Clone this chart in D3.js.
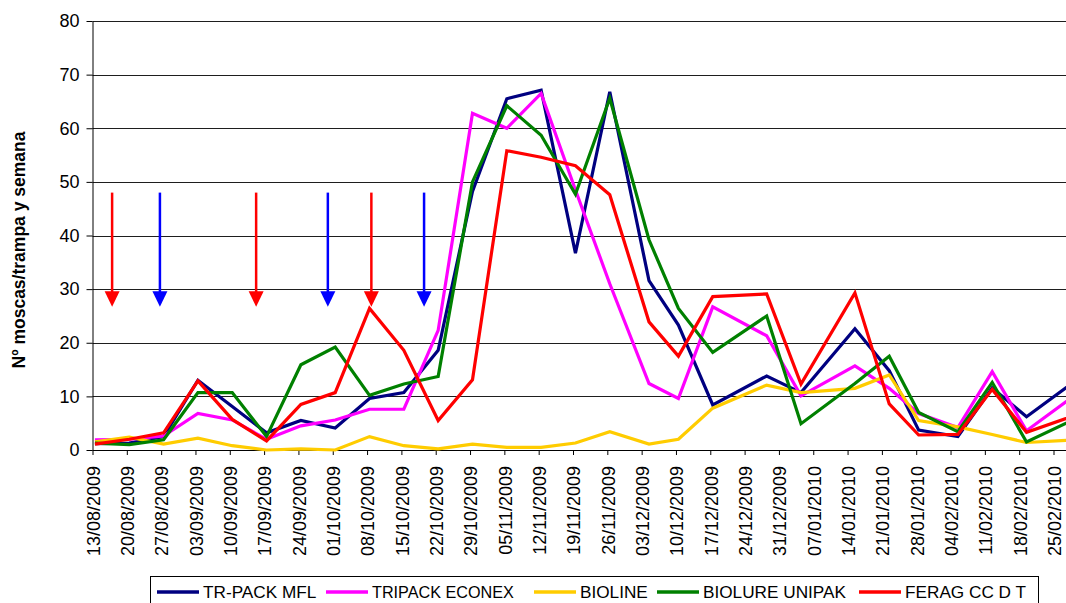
<!DOCTYPE html>
<html>
<head>
<meta charset="utf-8">
<script src="https://cdn.jsdelivr.net/npm/d3@7"></script>
<style>
  body { margin: 0; background: #fff; }
  svg { display: block; font-family: "Liberation Sans", Arial, sans-serif; }
</style>
</head>
<body>
<svg id="chart" width="1066" height="603"></svg>
<script>
// ---- data -------------------------------------------------------------
// trap inspection dates
const sampleDates = [
  "2009-08-13", "2009-08-20", "2009-08-27", "2009-09-03", "2009-09-10",
  "2009-09-17", "2009-09-24", "2009-10-01", "2009-10-08", "2009-10-15",
  "2009-10-22", "2009-10-29", "2009-11-05", "2009-11-12", "2009-11-19",
  "2009-11-26", "2009-12-04", "2009-12-10", "2009-12-17", "2009-12-28",
  "2010-01-04", "2010-01-15", "2010-01-22", "2010-01-28", "2010-02-05",
  "2010-02-12", "2010-02-19", "2010-03-05"
];

// flies per trap and week
const trPackMfl = [1.2, 1.3, 2.5, 13.0, 8.1, 3.2, 5.5, 4.1, 9.6, 10.7, 18.6, 48.2, 65.5, 67.1,
  36.7, 66.8, 31.6, 23.3, 8.4, 13.8, 10.7, 22.6, 14.8, 3.7, 2.5, 11.6, 6.2, 15.6];
const tripackEconex = [1.9, 2.0, 2.6, 6.8, 5.6, 2.0, 4.5, 5.6, 7.6, 7.6, 22.3, 62.8, 60.0, 66.5,
  48.5, 31.0, 12.4, 9.6, 26.7, 21.3, 10.1, 15.7, 11.5, 6.8, 4.2, 14.6, 3.6, 13.0];
const bioline = [1.5, 2.4, 1.1, 2.2, 0.8, 0.0, 0.2, 0.0, 2.5, 0.8, 0.2, 1.1, 0.5, 0.5,
  1.3, 3.4, 1.1, 2.0, 7.8, 12.1, 10.7, 11.5, 14.0, 5.5, 4.3, 2.9, 1.4, 2.1];
const biolureUnipak = [1.3, 1.0, 1.9, 10.7, 10.7, 2.5, 15.9, 19.2, 10.2, 12.3, 13.7, 50.0, 64.2, 58.7,
  47.7, 65.6, 39.2, 26.4, 18.2, 25.0, 4.9, 12.4, 17.5, 7.0, 3.4, 12.6, 1.5, 7.6];
const feragCcDt = [1.1, 2.0, 3.2, 12.9, 5.7, 1.7, 8.5, 10.7, 26.4, 18.6, 5.5, 13.1, 55.8, 54.6,
  53.0, 47.6, 23.9, 17.5, 28.6, 29.1, 12.3, 29.3, 8.6, 2.8, 2.9, 11.3, 3.3, 7.8];

const seriesNames = ["TR-PACK MFL", "TRIPACK ECONEX", "BIOLINE", "BIOLURE UNIPAK", "FERAG CC D T"];
const seriesValues = [trPackMfl, tripackEconex, bioline, biolureUnipak, feragCcDt];

// weekly axis labels
const tickLabels = [
  "13/08/2009", "20/08/2009", "27/08/2009", "03/09/2009", "10/09/2009", "17/09/2009",
  "24/09/2009", "01/10/2009", "08/10/2009", "15/10/2009", "22/10/2009", "29/10/2009",
  "05/11/2009", "12/11/2009", "19/11/2009", "26/11/2009", "03/12/2009", "10/12/2009",
  "17/12/2009", "24/12/2009", "31/12/2009", "07/01/2010", "14/01/2010", "21/01/2010",
  "28/01/2010", "04/02/2010", "11/02/2010", "18/02/2010", "25/02/2010"
];
const yTicks = [0, 10, 20, 30, 40, 50, 60, 70, 80];

// treatment arrows (kind 0 / kind 1), drawn from 48 down to ~27
const arrowDates = ["2009-08-17T00:00", "2009-08-26T18:00", "2009-09-15T09:00",
  "2009-09-30T00:00", "2009-10-08T21:00", "2009-10-19T15:00"];
const arrowKinds = [0, 1, 0, 1, 0, 1];
const arrowFrom = 48;
const arrowTo = 26.7;

// ---- styles -----------------------------------------------------------
const seriesColors = ["#000080", "#FF00FF", "#FFCC00", "#008000", "#FF0000"];
const arrowColors = ["#FF0000", "#0000FF"];

// ---- layout -----------------------------------------------------------
const W = 1066, H = 603;
const plotLeft = 92.5, plotTop = 21, plotBottom = 450, plotRight = W;
const legendItemX = [157, 326, 534, 657, 859];
const svg = d3.select("#chart");

const parseDay = d3.utcParse("%Y-%m-%d");
const parseHour = d3.utcParse("%Y-%m-%dT%H:%M");
const parseLabel = d3.utcParse("%d/%m/%Y");
const fmtLabel = d3.utcFormat("%d/%m/%Y");

const tickDates = tickLabels.map(parseLabel);
const x = d3.scaleUtc()
  .domain([tickDates[0], tickDates[tickDates.length - 1]])
  .range([plotLeft, 1053.5]);
const y = d3.scaleLinear().domain([0, 80]).range([plotBottom, plotTop]);

// samples sit in the middle of their day
const samplePos = sampleDates.map(s => d3.utcHour.offset(parseDay(s), 12));

// gridlines
svg.append("g")
  .selectAll("line")
  .data(yTicks.filter(v => v > 0))
  .join("line")
  .attr("x1", plotLeft).attr("x2", plotRight)
  .attr("y1", d => Math.round(y(d)) + 0.5).attr("y2", d => Math.round(y(d)) + 0.5)
  .attr("stroke", "#1e1e1e").attr("stroke-width", 1);

// y axis
const yAxis = svg.append("g")
  .attr("transform", `translate(${plotLeft},0)`)
  .call(d3.axisLeft(y).tickValues(yTicks).tickSize(6).tickPadding(7).tickSizeOuter(0));
yAxis.select(".domain").attr("stroke", "#000");
yAxis.selectAll(".tick line").attr("stroke", "#000");
yAxis.selectAll("text").attr("font-size", 18).attr("fill", "#000")
  .style("font-family", "'Liberation Sans', Arial, sans-serif");

// x axis
const xAxis = svg.append("g")
  .attr("transform", `translate(0,${plotBottom})`)
  .call(d3.axisBottom(x).tickValues(tickDates).tickFormat(fmtLabel).tickSize(5).tickSizeOuter(0));
xAxis.select(".domain").attr("stroke", "#000").attr("d", `M${plotLeft},0.5H${plotRight}`);
xAxis.selectAll(".tick line").attr("stroke", "#000");
xAxis.selectAll("text")
  .attr("font-size", 18).attr("fill", "#000")
  .style("font-family", "'Liberation Sans', Arial, sans-serif")
  .attr("transform", "rotate(-90)")
  .attr("x", -16).attr("y", 0).attr("dy", "0.38em")
  .attr("text-anchor", "end");

// y axis title
svg.append("text")
  .attr("transform", "translate(25,250) rotate(-90)")
  .attr("text-anchor", "middle")
  .attr("font-size", 17.5).attr("font-weight", "bold")
  .text("Nº moscas/trampa y semana");

// clip for the series
svg.append("clipPath").attr("id", "plotClip")
  .append("rect").attr("x", plotLeft).attr("y", 0).attr("width", plotRight - plotLeft).attr("height", plotBottom + 2);

// series lines
const line = d3.line().x(d => x(d.date)).y(d => y(d.value));
svg.append("g").attr("clip-path", "url(#plotClip)")
  .selectAll("path")
  .data(seriesValues.map((vals, i) => ({ i, pts: vals.map((v, k) => ({ date: samplePos[k], value: v })) })))
  .join("path")
  .attr("d", d => line(d.pts))
  .attr("fill", "none")
  .attr("stroke", d => seriesColors[d.i])
  .attr("stroke-width", 3.2)
  .attr("stroke-linejoin", "miter")
  .attr("stroke-miterlimit", 4);

// treatment arrows
const headH = 15.5, headW = 15;
const arrows = svg.append("g")
  .selectAll("g")
  .data(arrowDates.map((s, i) => ({ date: parseHour(s), kind: arrowKinds[i] })))
  .join("g");
arrows.append("line")
  .attr("x1", d => x(d.date)).attr("x2", d => x(d.date))
  .attr("y1", y(arrowFrom)).attr("y2", y(arrowTo) - headH + 1)
  .attr("stroke", d => arrowColors[d.kind]).attr("stroke-width", 2.5);
arrows.append("path")
  .attr("d", d => {
    const cx = x(d.date), tip = y(arrowTo);
    return `M${cx - headW / 2},${tip - headH}L${cx + headW / 2},${tip - headH}L${cx},${tip}Z`;
  })
  .attr("fill", d => arrowColors[d.kind]);

// legend
const legend = svg.append("g");
legend.append("rect")
  .attr("x", 150.5).attr("y", 576.5).attr("width", 888).attr("height", 40)
  .attr("fill", "#fff").attr("stroke", "#000").attr("stroke-width", 1);
seriesNames.forEach((name, i) => {
  const lx = legendItemX[i];
  legend.append("line")
    .attr("x1", lx).attr("x2", lx + 42).attr("y1", 592).attr("y2", 592)
    .attr("stroke", seriesColors[i]).attr("stroke-width", 3.5);
  legend.append("text")
    .attr("x", lx + 46).attr("y", 597.5)
    .attr("font-size", i === 1 ? 16.2 : 17.2).attr("fill", "#000")
    .text(name);
});
</script>
</body>
</html>
